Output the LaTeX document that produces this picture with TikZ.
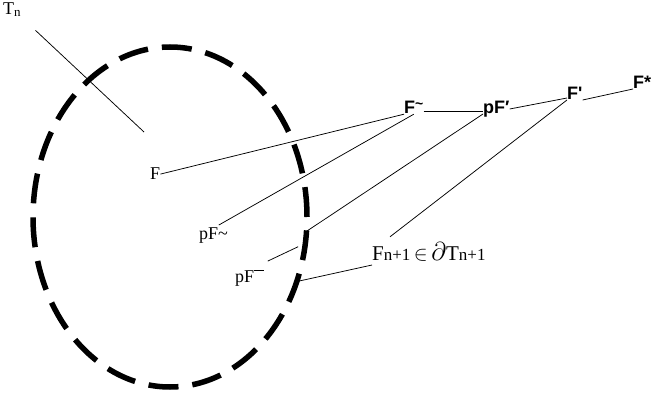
\documentclass[tikz,border=0pt]{standalone}
\usepackage{fontspec}
\usepackage{graphicx}
\setmainfont{Liberation Serif}
\newfontfamily\labsans{Liberation Sans}
\usetikzlibrary{shapes.geometric}

\newcommand{\subsz}{\fontsize{13}{14}\selectfont}
\newcommand{\bigsub}{\fontsize{17}{18}\selectfont}

\begin{document}
\begin{tikzpicture}[x=1pt, y=-1pt,
  lab/.style={inner sep=0pt, anchor=base west, font=\fontsize{18}{20}\selectfont},
  biglab/.style={inner sep=0pt, anchor=base west, font=\fontsize{21}{23}\selectfont},
  blab/.style={inner sep=0pt, anchor=base west, font=\labsans\bfseries\fontsize{18}{20}\selectfont},
  ln/.style={line width=0.75pt},
  bnd/.style={draw, ellipse, line width=5.5pt, dash pattern=on 30pt off 14pt,
              inner sep=0pt, outer sep=0pt, minimum width=274pt, minimum height=340pt}
]
\useasboundingbox (0,0) rectangle (656,398);

\node[bnd] (Tbnd) at (170,217) {};

\node[lab] (Tn) at (3,15) {T{\subsz\raisebox{-1.5pt}{n}}};
\node[lab] (F) at (150,180) {F};
\node[lab] (pFt) at (199,240) {pF\textasciitilde};
\node[lab] (pFm) at (235,282) {pF\raisebox{0.62em}{\rule{10pt}{1pt}}};
\node[biglab] (Fn1) at (372,260)
  {F{\bigsub n+1}\,$\in$\,\scalebox{1.25}{$\partial$}T{\bigsub n+1}};

\node[blab] (Ftil) at (404,114) {F\raisebox{0.3em}{\fontsize{14}{14}\selectfont\textasciitilde}};
\node[blab] (pFp) at (483,114) {pF′};
\node[blab] (Fp) at (567,100) {F\textquotesingle};
\node[blab] (Fs) at (633,89) {F*};

\coordinate (tnFoot) at (144,132);

\draw[ln, shorten <=20pt] (Tn.south east) -- (tnFoot);
\draw[ln] (F.east) -- (Ftil.south west);
\draw[ln, shorten <=6pt] (pFt.north) -- (Ftil.south);
\draw[ln] ([yshift=3pt]Ftil.base east) -- ([yshift=3pt]pFp.base west);
\draw[ln] ([yshift=5pt]pFp.base east) -- ([yshift=2pt]Fp.base west);
\draw[ln] (Fp.base east) -- (Fs.base west);
\draw[ln] (pFp.base west) -- (Tbnd.-6);
\draw[ln, shorten <=20pt, shorten >=8pt] (pFm.north) -- (Tbnd.-11);
\draw[ln] (Fp.base west) -- ([xshift=18pt,yshift=5pt]Fn1.north west);
\draw[ln] ([yshift=-4pt]Fn1.south west) -- (Tbnd.-27);
\end{tikzpicture}
\end{document}
